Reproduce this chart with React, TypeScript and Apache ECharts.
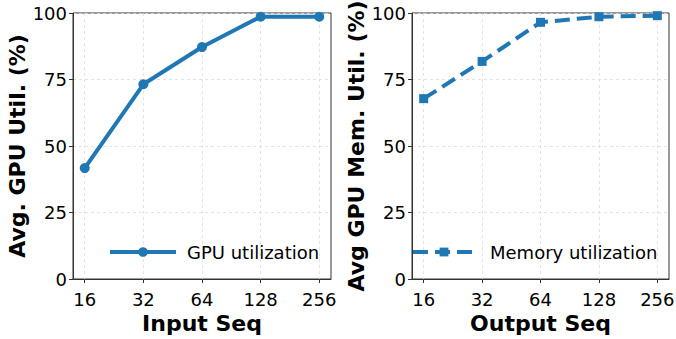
import React, { useEffect, useRef } from "react";
import * as echarts from "echarts";

// Sequence lengths shown on both x axes
const seqLabels = ["16", "32", "64", "128", "256"];
const seqIndex = [0, 1, 2, 3, 4];

// Average GPU compute utilisation (%) vs input sequence length
const gpuUtil = [41.7, 73.2, 87.2, 98.6, 98.6];
// Average GPU memory utilisation (%) vs output sequence length
const memUtil = [67.8, 81.8, 96.5, 98.6, 99.0];

const yTickValues = [0, 25, 50, 75, 100];

const BLUE = "#1f77b4";
const FONT = "DejaVu Sans";
const FRAME = "#333";

const gridLine = { show: true, lineStyle: { color: "#dcdcdc", width: 0.8, type: [3, 3] as number[] } };

function xAxisFor(gridIndex: number, name: string) {
  return {
    type: "value" as const,
    gridIndex,
    min: -0.2,
    max: 4.2,
    name,
    nameLocation: "middle" as const,
    nameGap: 32,
    nameTextStyle: { fontSize: 22, fontWeight: "bold" as const, color: "#000", fontFamily: FONT },
    axisLine: { show: true, onZero: false, lineStyle: { color: FRAME, width: 1 } },
    axisTick: { show: true, inside: false, length: 4, lineStyle: { color: FRAME, width: 1 }, customValues: seqIndex },
    axisLabel: {
      customValues: seqIndex,
      formatter: (v: number) => seqLabels[Math.round(v)] ?? "",
      fontSize: 18,
      color: "#000",
      fontFamily: FONT,
      margin: 11,
    },
    splitLine: gridLine,
  };
}

function yAxisFor(gridIndex: number, name: string, nameGap: number) {
  return {
    type: "value" as const,
    gridIndex,
    min: 0,
    max: 100,
    interval: 25,
    name,
    nameLocation: "middle" as const,
    nameGap,
    nameTextStyle: { fontSize: 22, fontWeight: "bold" as const, color: "#000", fontFamily: FONT },
    axisLine: { show: true, onZero: false, lineStyle: { color: FRAME, width: 1 } },
    axisTick: { show: true, inside: false, length: 4, lineStyle: { color: FRAME, width: 1 }, customValues: yTickValues },
    axisLabel: { fontSize: 18, color: "#000", fontFamily: FONT, margin: 6, customValues: yTickValues },
    splitLine: gridLine,
  };
}

export default function App() {
  const ref = useRef<HTMLDivElement>(null);

  useEffect(() => {
    if (!ref.current) return;
    const chart = echarts.init(ref.current, undefined, { renderer: "svg" });

    const gridBase = {
      top: 13,
      bottom: 60,
      show: true,
      borderColor: FRAME,
      borderWidth: 1,
      backgroundColor: "transparent",
      containLabel: false,
      outerBoundsMode: "none",
    };

    chart.setOption({
      animation: false,
      backgroundColor: "#fff",
      grid: [
        { ...gridBase, left: 73, right: 345 },
        { ...gridBase, left: 412, right: 7 },
      ],
      xAxis: [xAxisFor(0, "Input Seq"), xAxisFor(1, "Output Seq")],
      yAxis: [yAxisFor(0, "Avg. GPU Util. (%)", 44), yAxisFor(1, "Avg GPU Mem. Util. (%)", 43)],
      legend: [
        {
          data: ["GPU utilization"],
          left: 108,
          top: 243,
          padding: 0,
          itemWidth: 66,
          itemHeight: 12,
          itemStyle: { borderWidth: 0 },
          lineStyle: { width: 4 },
          textStyle: { fontSize: 18, color: "#000", fontFamily: FONT, padding: [0, 0, 0, 6] },
        },
        {
          data: ["Memory utilization"],
          left: 411,
          top: 243,
          padding: 0,
          itemWidth: 62,
          itemHeight: 11,
          itemStyle: { borderWidth: 0 },
          lineStyle: { width: 4, type: "inherit" },
          textStyle: { fontSize: 18, color: "#000", fontFamily: FONT, padding: [0, 0, 0, 10] },
        },
      ],
      series: [
        {
          name: "GPU utilization",
          type: "line",
          xAxisIndex: 0,
          yAxisIndex: 0,
          data: seqIndex.map((i) => [i, gpuUtil[i]]),
          symbol: "circle",
          symbolSize: 10,
          color: BLUE,
          itemStyle: { color: BLUE, borderWidth: 0 },
          lineStyle: { color: BLUE, width: 4, join: "round" },
          clip: false,
        },
        {
          name: "Memory utilization",
          type: "line",
          xAxisIndex: 1,
          yAxisIndex: 1,
          data: seqIndex.map((i) => [i, memUtil[i]]),
          symbol: "rect",
          symbolSize: 9,
          color: BLUE,
          itemStyle: { color: BLUE, borderWidth: 0 },
          lineStyle: { color: BLUE, width: 4, type: [15, 7], join: "round", cap: "butt" },
          clip: false,
        },
      ],
    });

    return () => chart.dispose();
  }, []);

  return (
    <div
      ref={ref}
      style={{ position: "fixed", left: 0, top: 0, width: 676, height: 339, background: "#fff" }}
    />
  );
}
